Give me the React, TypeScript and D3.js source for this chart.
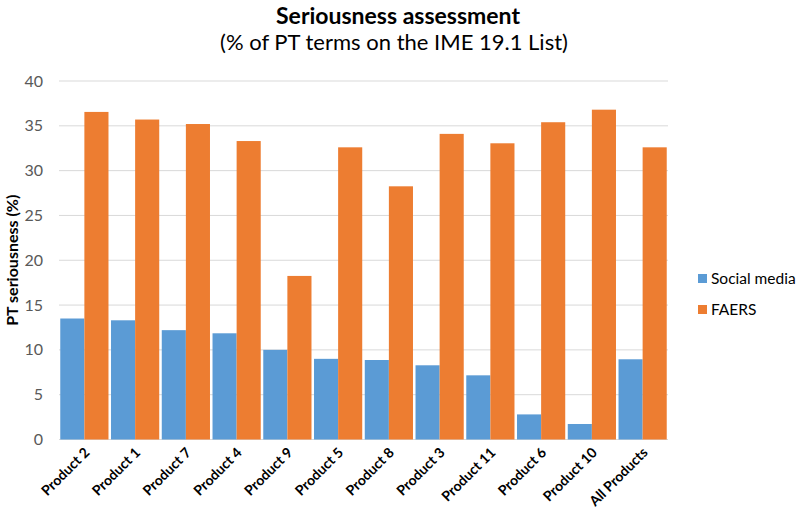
import React, { useEffect, useRef } from "react";
import * as d3 from "d3";

const categories = ["Product 2", "Product 1", "Product 7", "Product 4", "Product 9", "Product 5", "Product 8", "Product 3", "Product 11", "Product 6", "Product 10", "All Products"];
const socialMedia = [13.5, 13.3, 12.2, 11.85, 10.0, 9.0, 8.87, 8.28, 7.16, 2.8, 1.73, 8.95];
const faers = [36.55, 35.7, 35.2, 33.3, 18.25, 32.6, 28.25, 34.1, 33.05, 35.4, 36.8, 32.6];
const seriesNames = ["Social media", "FAERS"];
const yTicks = [0, 5, 10, 15, 20, 25, 30, 35, 40];

const colors = ["#5B9BD5", "#ED7D31"];
const font = "Lato, 'Open Sans', sans-serif";

const App = () => {
  const ref = useRef<SVGSVGElement>(null);

  useEffect(() => {
    const svg = d3.select(ref.current);
    svg.selectAll("*").remove();

    const margin = { top: 81, left: 59, right: 130, bottom: 74.5 };
    const width = 798 - margin.left - margin.right;
    const height = 514 - margin.top - margin.bottom;

    const g = svg.append("g").attr("transform", `translate(${margin.left},${margin.top})`);

    const x = d3.scaleBand().domain(categories).range([0, width]).paddingInner(0.05).paddingOuter(0.025);
    const x1 = d3.scaleBand().domain(seriesNames).range([0, x.bandwidth()]);
    const y = d3.scaleLinear().domain([0, 40]).range([height, 0]);

    // gridlines
    g.selectAll("line.grid")
      .data(yTicks)
      .join("line")
      .attr("class", "grid")
      .attr("x1", 0)
      .attr("x2", width)
      .attr("y1", (d) => y(d))
      .attr("y2", (d) => y(d))
      .attr("stroke", "#D9D9D9")
      .attr("stroke-width", 1);

    // y tick labels
    g.selectAll("text.ytick")
      .data(yTicks)
      .join("text")
      .attr("class", "ytick")
      .attr("x", -16)
      .attr("y", (d) => y(d))
      .attr("dy", "0.35em")
      .attr("text-anchor", "end")
      .attr("font-family", font)
      .attr("font-size", 16)
      .attr("fill", "#595959")
      .text((d) => d);

    const rows = categories.map((c, i) => ({ cat: c, vals: [socialMedia[i], faers[i]] }));

    const groups = g.selectAll("g.cat")
      .data(rows)
      .join("g")
      .attr("class", "cat")
      .attr("transform", (d) => `translate(${x(d.cat)},0)`);

    groups.selectAll("rect")
      .data((d) => d.vals.map((v, k) => ({ v, k })))
      .join("rect")
      .attr("x", (d) => x1(seriesNames[d.k])!)
      .attr("width", x1.bandwidth())
      .attr("y", (d) => y(d.v))
      .attr("height", (d) => height - y(d.v))
      .attr("fill", (d) => colors[d.k]);

    // x labels
    g.selectAll("text.xlab")
      .data(categories)
      .join("text")
      .attr("class", "xlab")
      .attr("transform", (d) => `translate(${x(d)! + x.bandwidth() / 2 + 6},${height + 14}) rotate(-45)`)
      .attr("text-anchor", "end")
      .attr("font-family", font)
      .attr("font-size", 14)
      .attr("font-weight", "bold")
      .attr("fill", "#000")
      .text((d) => d);

    // y axis title
    svg.append("text")
      .attr("transform", `translate(18,${margin.top + height / 2}) rotate(-90)`)
      .attr("text-anchor", "middle")
      .attr("font-family", font)
      .attr("font-size", 16)
      .attr("font-weight", "bold")
      .attr("fill", "#000")
      .text("PT seriousness (%)");

    // titles
    svg.append("text")
      .attr("x", 398)
      .attr("y", 24)
      .attr("text-anchor", "middle")
      .attr("font-family", font)
      .attr("font-size", 23)
      .attr("font-weight", "bold")
      .attr("fill", "#000")
      .text("Seriousness assessment");

    svg.append("text")
      .attr("x", 394)
      .attr("y", 50)
      .attr("text-anchor", "middle")
      .attr("font-family", font)
      .attr("font-size", 22)
      .attr("fill", "#000")
      .text("(% of PT terms on the IME 19.1 List)");

    // legend
    const legend = svg.append("g").attr("transform", "translate(698,274)");
    const items = legend.selectAll("g")
      .data(seriesNames)
      .join("g")
      .attr("transform", (_, i) => `translate(0,${i * 31})`);
    items.append("rect").attr("width", 9).attr("height", 9).attr("fill", (_, i) => colors[i]);
    items.append("text")
      .attr("x", 13)
      .attr("y", 4.5)
      .attr("dy", "0.35em")
      .attr("font-family", font)
      .attr("font-size", 15.5)
      .attr("fill", "#000")
      .text((d) => d);
  }, []);

  return (
    <svg
      ref={ref}
      width={798}
      height={514}
      style={{ position: "absolute", left: 0, top: 0, background: "#fff" }}
    />
  );
};

export default App;
